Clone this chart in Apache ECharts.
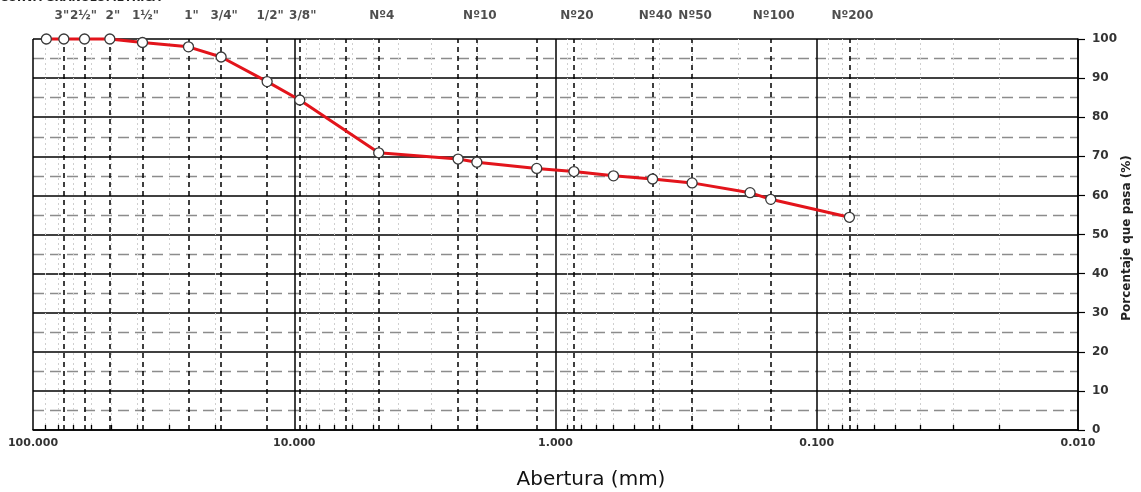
<!DOCTYPE html>
<html>
<head>
<meta charset="utf-8">
<script src="https://cdn.jsdelivr.net/npm/echarts@6/dist/echarts.min.js"></script>
<style>
  html, body { margin: 0; padding: 0; background: #fff; }
  #chart { width: 1141px; height: 492px; }
</style>
</head>
<body>
<div id="chart"></div>
<script>
// Sieve analysis: aperture (mm) vs. cumulative percent passing
const aperture = [88.9, 76.2, 63.5, 50.8, 38.1, 25.4, 19.05, 12.7, 9.525, 4.75, 2.36, 2.0, 1.18, 0.85, 0.6, 0.425, 0.3, 0.18, 0.15, 0.075];
const passing  = [100, 100, 100, 100, 99.1, 98.0, 95.4, 89.1, 84.4, 70.9, 69.3, 68.5, 66.9, 66.1, 65.0, 64.2, 63.2, 60.7, 59.0, 54.4];

// Named sieves shown along the top
const sieveNames = ['3"', '2½"', '2"', '1½"', '1"', '3/4"', '1/2"', '3/8"', 'Nº4', 'Nº10', 'Nº20', 'Nº40', 'Nº50', 'Nº100', 'Nº200'];
const sieveSizes = [76.2, 63.5, 50.8, 38.1, 25.4, 19.05, 12.7, 9.525, 4.75, 2.0, 0.85, 0.425, 0.3, 0.15, 0.075];

// All sieve openings drawn as dashed verticals
const sieveLines = [76.2, 63.5, 50.8, 38.1, 25.4, 19.05, 12.7, 9.525, 6.35, 4.75, 2.36, 2.0, 1.18, 0.85, 0.425, 0.3, 0.15, 0.075];

// Log-scale minor divisions (2..9 within each decade)
const decades = [0.01, 0.1, 1, 10];
const minorSteps = [2, 3, 4, 5, 6, 7, 8, 9];
const minorValues = [];
decades.forEach(d => minorSteps.forEach(m => minorValues.push(+(m * d).toPrecision(3))));

const yTicks = { min: 0, max: 100, interval: 10 };

const FONT = 'DejaVu Sans';

// small horizontal nudges for the crowded top labels
const labelNudge = { '3"': -2, '2½"': -1, '2"': 3 };

const chart = echarts.init(document.getElementById('chart'), null, { renderer: 'canvas' });

const vline = (x, y0, y1) => [{ coord: [x, y0] }, { coord: [x, y1] }];

chart.setOption({
  animation: false,
  backgroundColor: '#ffffff',
  title: {
    text: 'CURVA GRANULOMETRICA',
    left: 0,
    top: -7,
    padding: 0,
    textStyle: { fontFamily: FONT, fontWeight: 'bold', fontSize: 11, color: '#222' }
  },
  grid: { left: 33, right: 63, top: 39, bottom: 62, containLabel: false, outerBoundsMode: 'none' },
  xAxis: {
    type: 'log',
    logBase: 10,
    min: 0.01,
    max: 100,
    inverse: true,
    axisLine: { show: true, lineStyle: { color: '#000', width: 1.5 } },
    axisTick: { show: false },
    axisLabel: {
      margin: 8,
      fontFamily: FONT,
      fontWeight: 'bold',
      fontSize: 11,
      color: '#333',
      formatter: v => Number(v).toFixed(3)
    },
    splitLine: { show: true, lineStyle: { color: '#000', width: 1.5 } }
  },
  yAxis: {
    type: 'value',
    position: 'right',
    min: yTicks.min,
    max: yTicks.max,
    interval: yTicks.interval,
    axisLine: { show: true, lineStyle: { color: '#000', width: 1.5 } },
    axisTick: { show: true, inside: false, length: 7, lineStyle: { color: '#000', width: 1.2 } },
    axisLabel: { margin: 14, fontFamily: FONT, fontWeight: 'bold', fontSize: 12, color: '#333' },
    splitLine: { show: true, lineStyle: { color: '#000', width: 1.5 } },
    minorTick: { show: false, splitNumber: 2 },
    minorSplitLine: { show: true, lineStyle: { color: '#8c8c8c', width: 1.3, type: [11, 6] } }
  },
  graphic: [
    {
      type: 'text',
      x: 591,
      y: 470,
      style: {
        text: 'Abertura (mm)',
        fontFamily: FONT,
        fontSize: 20,
        fill: '#111',
        align: 'center',
        verticalAlign: 'top'
      }
    },
    {
      type: 'text',
      x: 1127,
      y: 238,
      rotation: Math.PI / 2,
      style: {
        text: 'Porcentaje que pasa (%)',
        fontFamily: FONT,
        fontWeight: 'bold',
        fontSize: 12,
        fill: '#222',
        align: 'center',
        verticalAlign: 'middle'
      }
    }
  ],
  series: [
    {
      // minor log divisions (dotted)
      type: 'line',
      data: [],
      silent: true,
      z: 1,
      markLine: {
        silent: true,
        symbol: ['none', 'none'],
        label: { show: false },
        lineStyle: { color: '#cfcfcf', width: 1, type: [2, 3] },
        data: minorValues.map(v => vline(v, 0, 100))
      }
    },
    {
      // minor ticks along the bottom axis
      type: 'line',
      data: [],
      silent: true,
      z: 2,
      markLine: {
        silent: true,
        symbol: ['none', 'none'],
        label: { show: false },
        lineStyle: { color: '#000', width: 1.3, type: 'solid' },
        data: minorValues.map(v => vline(v, 0, 1.3))
      }
    },
    {
      // sieve openings
      type: 'line',
      data: [],
      silent: true,
      z: 3,
      markLine: {
        silent: true,
        symbol: ['none', 'none'],
        label: { show: false },
        lineStyle: { color: '#000', width: 1.5, type: [5, 4] },
        data: sieveLines.map(v => vline(v, 0, 100))
      }
    },
    {
      // sieve names above the plot
      type: 'scatter',
      symbolSize: 0,
      silent: true,
      clip: false,
      data: sieveSizes.map((s, i) => ({
        value: [s, 100],
        label: { offset: [labelNudge[sieveNames[i]] ?? 3, 0] }
      })),
      label: {
        show: true,
        position: 'top',
        distance: 17,
        fontFamily: FONT,
        fontWeight: 'bold',
        fontSize: 12,
        color: '#222',
        formatter: p => sieveNames[p.dataIndex]
      },
      z: 4
    },
    {
      name: 'Curva granulométrica',
      type: 'line',
      data: aperture.map((a, i) => [a, passing[i]]),
      clip: false,
      symbol: 'circle',
      symbolSize: 10,
      itemStyle: { color: '#ffffff', borderColor: '#3a3a3a', borderWidth: 1.3 },
      lineStyle: { color: '#e3141b', width: 3 },
      z: 10
    }
  ]
});
</script>
</body>
</html>
